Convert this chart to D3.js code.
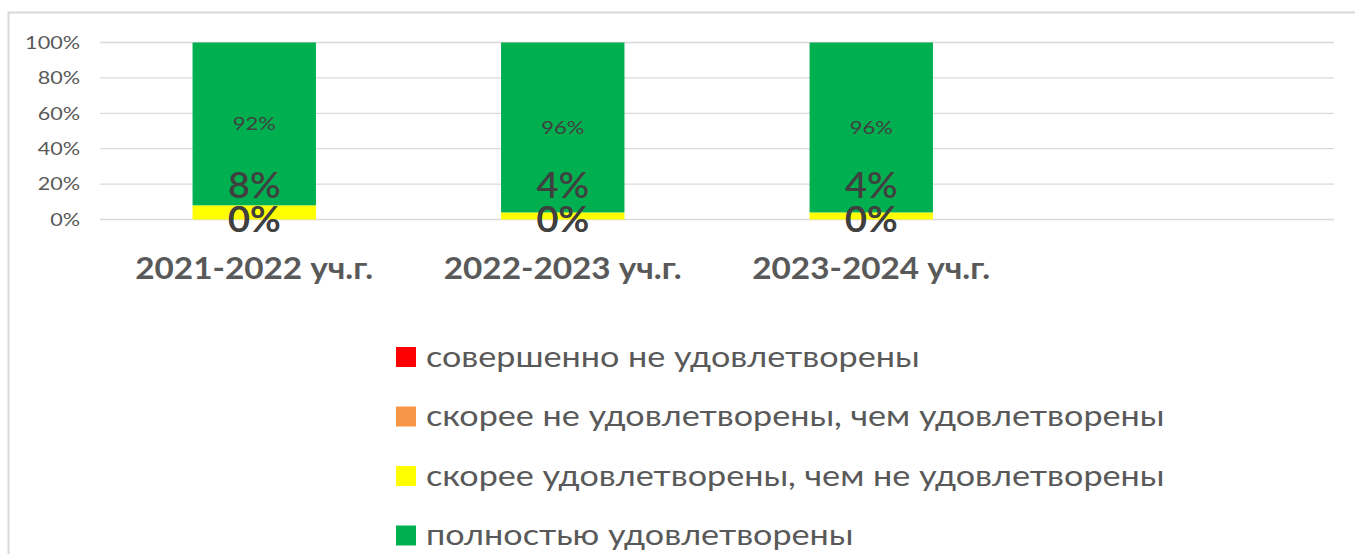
<!DOCTYPE html>
<html><head><meta charset="utf-8">
<script src="https://cdn.jsdelivr.net/npm/d3@7"></script>
<style>body{margin:0;background:#fff}svg{display:block}</style>
</head><body>
<script>
const categories = ["2021-2022 уч.г.", "2022-2023 уч.г.", "2023-2024 уч.г.", ""];
const seriesNames = ["совершенно не удовлетворены", "скорее не удовлетворены, чем удовлетворены", "скорее удовлетворены, чем не удовлетворены", "полностью удовлетворены"];
const seriesColors = ["#ff0000", "#f79646", "#ffff00", "#00b050"];
const red = [0, 0, 0];
const orange = [0, 0, 0];
const yellow = [8, 4, 4];
const green = [92, 96, 96];
const yTicks = [0, 20, 40, 60, 80, 100];

const W = 1355, H = 554;
const svg = d3.select("body").append("svg").attr("width", W).attr("height", H);
svg.append("rect").attr("x", 8.5).attr("y", 12.5).attr("width", W + 10).attr("height", H + 10)
  .attr("fill", "none").attr("stroke", "#d9d9d9").attr("stroke-width", 2);

const font = "Lato, 'Open Sans', sans-serif";
const x = d3.scaleBand().domain(categories.map((c, i) => i)).range([100, 1334]).paddingInner(0.6).paddingOuter(0.3);
const y = d3.scaleLinear().domain([0, 100]).range([219.5, 42.5]);

// text helper with horizontal stretch
function txt(g, tx, ty, s, opt) {
  const t = g.append("g").attr("transform", `translate(${tx},${ty}) scale(${opt.sx},1)`)
    .append("text").attr("x", 0).attr("y", 0).attr("dy", "0.35em")
    .attr("text-anchor", opt.anchor || "middle").attr("font-family", font)
    .attr("font-size", opt.size).attr("font-weight", opt.weight || 400).attr("fill", opt.fill).text(s);
  return t;
}

// gridlines
svg.append("g").selectAll("line").data(yTicks).join("line")
  .attr("x1", 100).attr("x2", 1334).attr("y1", d => y(d)).attr("y2", d => y(d))
  .attr("stroke", "#d9d9d9").attr("stroke-width", 1.3);

// y axis labels
const ga = svg.append("g");
yTicks.forEach(d => txt(ga, 80, y(d), d + "%", { sx: 1.2, size: 18, fill: "#595959", anchor: "end" }));

// stacked bars
const rows = categories.slice(0, 3).map((c, i) => ({ i, v: [red[i], orange[i], yellow[i], green[i]] }));
const stack = d3.stack().keys([0, 1, 2, 3]).value((d, k) => d.v[k]);
const layers = stack(rows);
svg.append("g").selectAll("g").data(layers).join("g").attr("fill", (d, k) => seriesColors[k])
  .selectAll("rect").data(d => d).join("rect")
  .attr("x", d => x(d.data.i)).attr("width", x.bandwidth())
  .attr("y", d => y(d[1])).attr("height", d => y(d[0]) - y(d[1]));

// labels
const lab = svg.append("g");
rows.forEach(r => {
  const cx = x(r.i) + x.bandwidth() / 2;
  txt(lab, cx, y(r.v[2] + r.v[3] / 2), r.v[3] + "%", { sx: 1.22, size: 18, fill: "#404040" });
  txt(lab, cx, y(0) - 34, r.v[2] + "%", { sx: 1.05, size: 36, weight: 600, fill: "#404040" });
  txt(lab, cx, y(r.v[0] + r.v[1]), r.v[1] + "%", { sx: 1.05, size: 36, weight: 600, fill: "#404040" });
  txt(lab, cx, y(r.v[0] / 2), r.v[0] + "%", { sx: 1.05, size: 36, weight: 600, fill: "#404040" });
});

// category labels
const cg = svg.append("g");
categories.forEach((c, i) => txt(cg, x(i) + x.bandwidth() / 2, 268, c, { sx: 1.11, size: 30, weight: 700, fill: "#595959" }));

// legend
const lg = svg.append("g");
seriesNames.forEach((s, i) => {
  const ly = 357 + i * 59.5;
  lg.append("rect").attr("x", 396).attr("y", ly - 10).attr("width", 20).attr("height", 20).attr("fill", seriesColors[i]);
  txt(lg, 426, ly, s, { sx: 1.22, size: 28, fill: "#595959", anchor: "start" });
});
</script>
</body></html>
